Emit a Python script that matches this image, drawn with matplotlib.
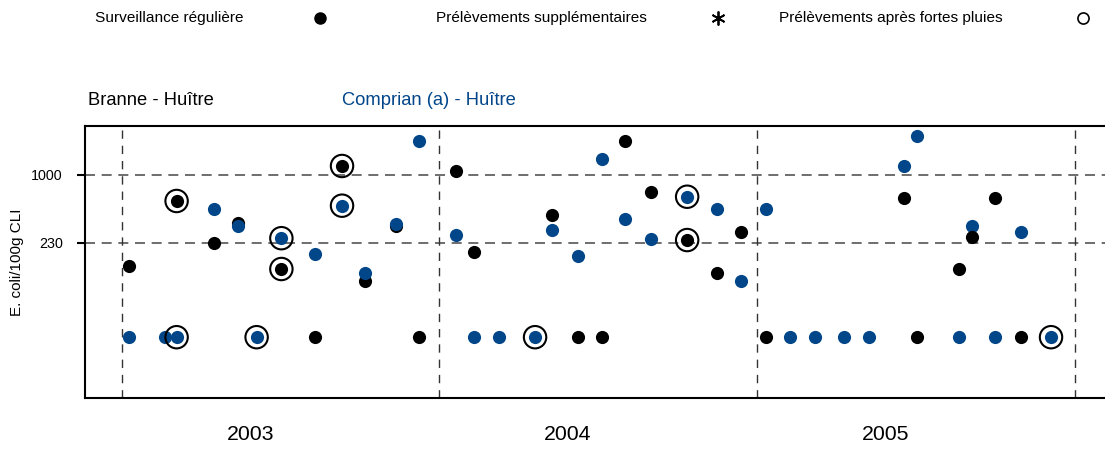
import matplotlib.pyplot as plt
from matplotlib.lines import Line2D

plt.rcParams['font.family'] = ['Liberation Sans', 'DejaVu Sans']

# Branne - Huitre (black)
branne_t = [2003.022, 2003.172, 2003.290, 2003.364, 2003.502, 2003.609, 2003.693,
            2003.766, 2003.863, 2003.936, 2004.052, 2004.109, 2004.355, 2004.435,
            2004.511, 2004.584, 2004.666, 2004.780, 2004.875, 2004.950, 2005.027,
            2005.463, 2005.505, 2005.637, 2005.676, 2005.751, 2005.832]
branne_v = [141, 570, 230, 356, 131, 30, 1215,
            101, 332, 30, 1100, 191, 424, 30,
            30, 2100, 692, 245, 120, 292, 30,
            612, 30, 131, 262, 612, 30]
branne_rain = [0, 1, 0, 0, 1, 0, 1,
               0, 0, 0, 0, 0, 0, 0,
               0, 0, 0, 1, 0, 0, 0,
               0, 0, 0, 0, 0, 0]

# Comprian (a) - Huitre (blue)
comprian_t = [2003.022, 2003.135, 2003.172, 2003.290, 2003.364, 2003.424, 2003.502,
              2003.609, 2003.693, 2003.766, 2003.863, 2003.936, 2004.052, 2004.109,
              2004.187, 2004.301, 2004.355, 2004.435, 2004.511, 2004.584, 2004.666,
              2004.780, 2004.875, 2004.950, 2005.027, 2005.103, 2005.183, 2005.275,
              2005.352, 2005.463, 2005.505, 2005.637, 2005.676, 2005.751, 2005.832,
              2005.926]
comprian_v = [30, 30, 30, 483, 332, 30, 255,
              181, 515, 121, 344, 2100, 272, 30,
              30, 30, 303, 173, 1404, 384, 251,
              625, 477, 101, 477, 30, 30, 30,
              30, 1215, 2340, 30, 332, 30, 292,
              30]
comprian_rain = [0, 0, 1, 0, 0, 1, 1,
                 0, 1, 0, 0, 0, 0, 0,
                 0, 1, 0, 0, 0, 0, 0,
                 1, 0, 0, 0, 0, 0, 0,
                 0, 0, 0, 0, 0, 0, 0,
                 1]

years = [2003, 2004, 2005]
seuils = [1000, 230]
blue = '#02468a'

fig = plt.figure(figsize=(11.05, 4.49), dpi=100)
ax = fig.add_axes([85 / 1105, 0.1136, 1020 / 1105, 0.6058])

# 2003-2004: bleu au-dessus, 2005: noir au-dessus (comme l'original)
bt_a = [t for t in branne_t if t < 2005]
bv_a = [v for t, v in zip(branne_t, branne_v) if t < 2005]
bt_b = [t for t in branne_t if t >= 2005]
bv_b = [v for t, v in zip(branne_t, branne_v) if t >= 2005]
ax.scatter(bt_a, bv_a, s=90, color='black', zorder=3, linewidths=0)
ax.scatter(comprian_t, comprian_v, s=90, color=blue, zorder=3.1, linewidths=0)
ax.scatter(bt_b, bv_b, s=90, color='black', zorder=3.2, linewidths=0)

rain_t = [t for t, r in zip(branne_t, branne_rain) if r] + \
         [t for t, r in zip(comprian_t, comprian_rain) if r]
rain_v = [v for v, r in zip(branne_v, branne_rain) if r] + \
         [v for v, r in zip(comprian_v, comprian_rain) if r]
ax.scatter(rain_t, rain_v, s=260, facecolors='none', edgecolors='black',
           linewidths=1.5, zorder=4)

ax.set_yscale('log')
ax.set_ylim(8.06, 2884)
ax.set_xlim(2002.8835, 2006.096)

for s in seuils:
    ax.axhline(s, color='#555555', lw=1.2, ls=(0, (6, 4)), zorder=1)
for y in years + [2006]:
    ax.axvline(y, color='#333333', lw=1.0, ls=(0, (6, 5)), zorder=1)

ax.set_yticks(seuils)
ax.set_yticklabels([str(s) for s in seuils], fontsize=10.3)
ax.yaxis.set_minor_locator(plt.NullLocator())
ax.tick_params(axis='y', length=6, width=1.5, pad=10)
ax.set_xticks([])
ax.spines['right'].set_visible(False)
for side in ['left', 'top', 'bottom']:
    ax.spines[side].set_linewidth(1.5)
ax.set_ylabel('E. coli/100g CLI', fontsize=11)
ax.yaxis.label.set_va('center')
ax.yaxis.set_label_coords(-0.0667, 0.5)

for y in years:
    ax.text(y + 0.405, -0.136, str(y), transform=ax.get_xaxis_transform(),
            ha='center', va='center', fontsize=15.3)

# sous-titres
fig.text(0.0796, 0.777, 'Branne - Huître', fontsize=13.2, va='center')
fig.text(0.3095, 0.777, 'Comprian (a) - Huître', fontsize=13.2, va='center', color=blue)

# legende du haut
fig.text(0.086, 0.96, 'Surveillance régulière', fontsize=11.1, va='center')
fig.text(0.395, 0.96, 'Prélèvements supplémentaires', fontsize=11.1, va='center')
fig.text(0.705, 0.96, 'Prélèvements après fortes pluies', fontsize=11.1, va='center')
fig.add_artist(Line2D([0.2896], [0.96], marker='o', color='black', ms=8,
                      transform=fig.transFigure))
fig.add_artist(Line2D([0.6498], [0.96], marker=(6, 2, 0), color='black', ms=10,
                      mew=1.3, transform=fig.transFigure))
fig.add_artist(Line2D([0.98], [0.96], marker='o', color='black', ms=8,
                      mfc='none', mew=1.2, transform=fig.transFigure))

fig.savefig('out.png', dpi=100)
